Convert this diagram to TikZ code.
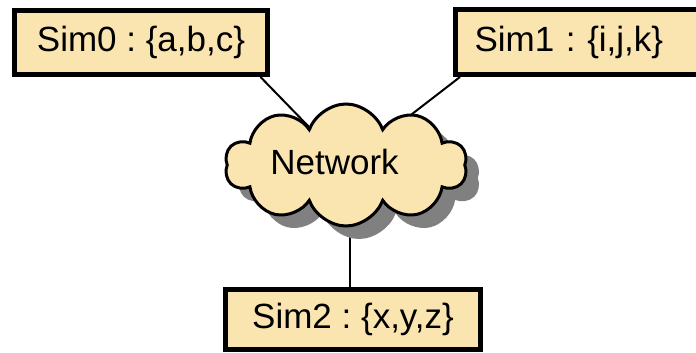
\documentclass[tikz,border=0pt]{standalone}
\usepackage{fontspec}
\setmainfont{Liberation Sans}
\usetikzlibrary{shapes.symbols,shadows,backgrounds}
\definecolor{boxtan}{RGB}{250,229,176}
\definecolor{shadowgray}{RGB}{128,128,128}
\frenchspacing
\begin{document}
\begin{tikzpicture}[x=1pt,y=-1pt,
  simbox/.style={draw=black, line width=5pt, fill=boxtan,
    font=\fontsize{35}{40}\selectfont\frenchspacing, inner sep=0pt, minimum height=64pt},
  link/.style={draw=black, line width=2pt},
  netcloud/.style={cloud, cloud puffs=10, cloud puff arc=140, aspect=1.9,
    draw=black, line width=3pt, fill=boxtan, inner sep=0pt,
    minimum width=242pt, minimum height=122pt,
    drop shadow={shadow xshift=13pt, shadow yshift=-13pt, fill=shadowgray, opacity=1}},
  label/.style={font=\fontsize{35}{40}\selectfont, inner sep=0pt}]
\useasboundingbox (0,0) rectangle (696,353);

% simulator boxes
\node[simbox, minimum width=253pt] (sim0) at (141,42.5) {Sim0 : \{a,b,c\}};
\node[simbox, anchor=west, text width=245pt, align=left, inner xsep=19.5pt, minimum height=65pt] (sim1) at (452.5,42) {Sim1 : \{i,j,k\}};
\node[simbox, minimum width=255pt, minimum height=60pt] (sim2) at (353,319.5) {Sim2 : \{x,y,z\}};

% network cloud
\node[netcloud] (net) at (346,165) {};
\node[label] (nettext) at (334.5,162) {Network};

% connectors behind the cloud
\begin{pgfonlayer}{background}
  \draw[link] ([xshift=-9.5pt]sim0.south east) -- (net.center);
  \draw[link] ([xshift=7.5pt]sim1.south west) -- (net.center);
  \draw[link] ([xshift=-3pt]sim2.north) -- ([xshift=-3pt]sim2.north |- net.center);
\end{pgfonlayer}
\end{tikzpicture}
\end{document}
